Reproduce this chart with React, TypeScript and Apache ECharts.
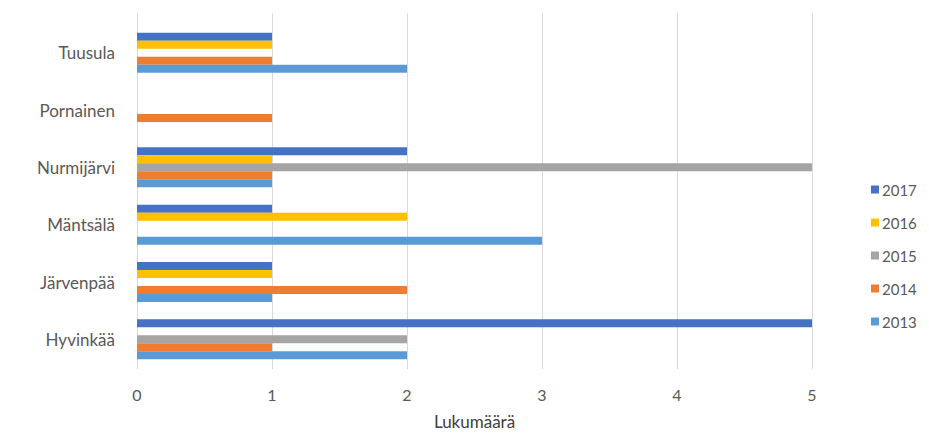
import React, { useEffect, useRef } from "react";
import * as echarts from "echarts";

const categories = ["Hyvinkää", "Järvenpää", "Mäntsälä", "Nurmijärvi", "Pornainen", "Tuusula"];
const years = ["2017", "2016", "2015", "2014", "2013"];
const v2013 = [2, 1, 3, 1, 0, 2];
const v2014 = [1, 2, 0, 1, 1, 1];
const v2015 = [2, 0, 0, 5, 0, 0];
const v2016 = [0, 1, 2, 1, 0, 1];
const v2017 = [5, 1, 1, 2, 0, 1];
const xTicks = [0, 1, 2, 3, 4, 5];
const colors = ["#4472C4", "#FFC000", "#A5A5A5", "#ED7D31", "#5B9BD5"];
const axisTitle = "Lukumäärä";

export default function App() {
  const ref = useRef<HTMLDivElement>(null);
  useEffect(() => {
    if (!ref.current) return;
    const chart = echarts.init(ref.current, undefined, { renderer: "svg" });
    const values = [v2017, v2016, v2015, v2014, v2013];
    const font = "Lato, 'Open Sans', sans-serif";
    chart.setOption({
      animation: false,
      textStyle: { fontFamily: font },
      grid: [
        { left: 137, right: 117, top: 24, bottom: 71, containLabel: false },
        { left: 137, right: 117, top: 13, bottom: 70, containLabel: false },
      ],
      legend: {
        orient: "vertical",
        left: 866,
        top: 177,
        itemWidth: 8,
        itemHeight: 8,
        itemGap: 18,
        icon: "rect",
        data: ["2017", "2016", "2015", "2014", "2013"],
        textStyle: { color: "#595959", fontSize: 15, fontFamily: font, padding: [0, 0, 0, -2] },
      },
      xAxis: [
        {
          type: "value",
          gridIndex: 0,
          min: xTicks[0],
          max: xTicks[xTicks.length - 1],
          interval: 1,
          axisLine: { show: false },
          axisTick: { show: false },
          splitLine: { show: false },
          axisLabel: { color: "#595959", fontSize: 16, margin: 18, fontFamily: font },
          name: axisTitle,
          nameLocation: "middle",
          nameGap: 45,
          nameTextStyle: { color: "#404040", fontSize: 17, fontFamily: font },
        },
        {
          type: "value",
          gridIndex: 1,
          min: xTicks[0],
          max: xTicks[xTicks.length - 1],
          interval: 1,
          axisLine: { show: false },
          axisTick: { show: false },
          axisLabel: { show: false },
          splitLine: { show: true, lineStyle: { color: "#d9d9d9", width: 1 } },
          z: 0,
        },
      ],
      yAxis: [
        {
          type: "category",
          gridIndex: 0,
          data: categories,
          axisLine: { show: false },
          axisTick: { show: false },
          axisLabel: { color: "#595959", fontSize: 17, margin: 22, fontFamily: font },
        },
        {
          type: "value",
          gridIndex: 1,
          show: false,
        },
      ],
      series: years.map((y, i) => ({
        name: y,
        type: "bar",
        xAxisIndex: 0,
        yAxisIndex: 0,
        data: values[i],
        barWidth: 8,
        barGap: "0%",
        itemStyle: { color: colors[i] },
      })),
    });
    return () => chart.dispose();
  }, []);
  return <div ref={ref} style={{ width: 929, height: 439, position: "absolute", left: 0, top: 0 }} />;
}
